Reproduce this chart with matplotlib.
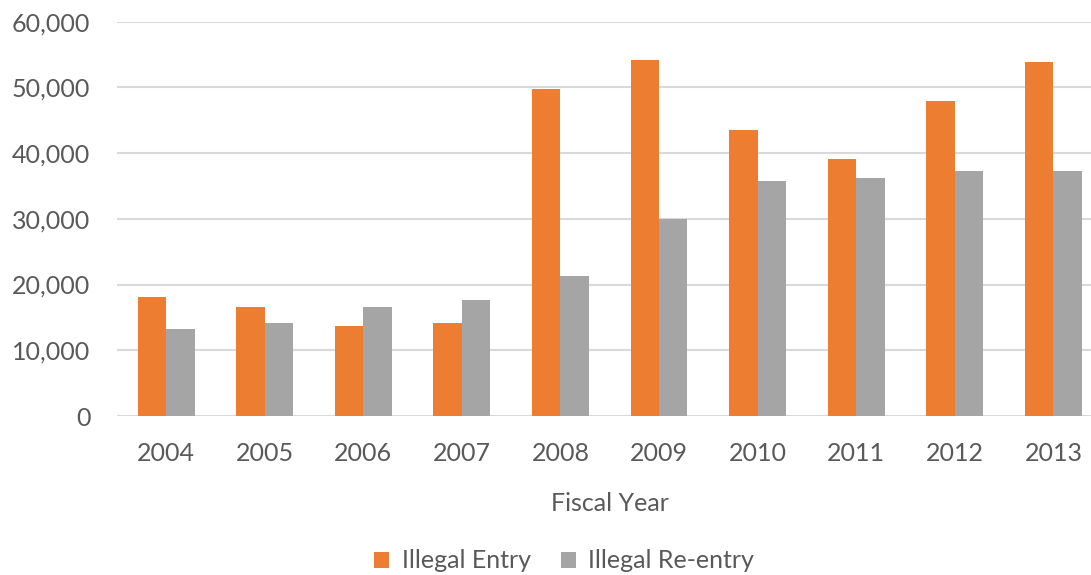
import matplotlib
matplotlib.use("Agg")
import matplotlib.pyplot as plt
import numpy as np
from matplotlib.ticker import FuncFormatter

years = ["2004", "2005", "2006", "2007", "2008", "2009", "2010", "2011", "2012", "2013"]
illegal_entry = [18050, 16600, 13700, 14100, 49800, 54100, 43500, 39100, 47900, 53800]
illegal_reentry = [13300, 14100, 16600, 17700, 21300, 30000, 35800, 36200, 37300, 37300]

plt.rcParams['font.family'] = ['Lato', 'DejaVu Sans']
text_col = '#595959'

fig = plt.figure(figsize=(10.91, 5.75), dpi=100)
# plot area runs slightly past the right edge, as in the original crop
ax = fig.add_axes([0.107, 0.2765, 0.9037, 0.6858])

x = np.arange(len(years))
w = 0.289
ax.bar(x - w / 2, illegal_entry, w, color='#ED7D31', label='Illegal Entry', zorder=3)
ax.bar(x + w / 2, illegal_reentry, w, color='#A5A5A5', label='Illegal Re-entry', zorder=3)

ax.set_xlim(-0.5, len(years) - 0.5)
ax.set_ylim(0, 60000)
ax.set_yticks(np.arange(0, 60001, 10000))
ax.yaxis.set_major_formatter(FuncFormatter(lambda v, p: f"{int(v):,}"))
ax.set_xticks(x)
ax.set_xticklabels(years)

ax.grid(axis='y', color='#d9d9d9', linewidth=1.5, zorder=0)
for s in ax.spines.values():
    s.set_visible(False)
ax.tick_params(axis='both', length=0, labelsize=18, colors=text_col)
ax.tick_params(axis='y', pad=19)
ax.tick_params(axis='x', pad=19)

ax.set_xlabel('Fiscal Year', fontsize=18, color=text_col, labelpad=19)

fig.legend(loc='center', bbox_to_anchor=(0.517, 1 - 561 / 575), ncol=2, frameon=False,
           fontsize=18, labelcolor=text_col, handlelength=0.6, handleheight=0.6,
           handletextpad=0.5, columnspacing=1.2)

fig.savefig('out.png', dpi=100)
